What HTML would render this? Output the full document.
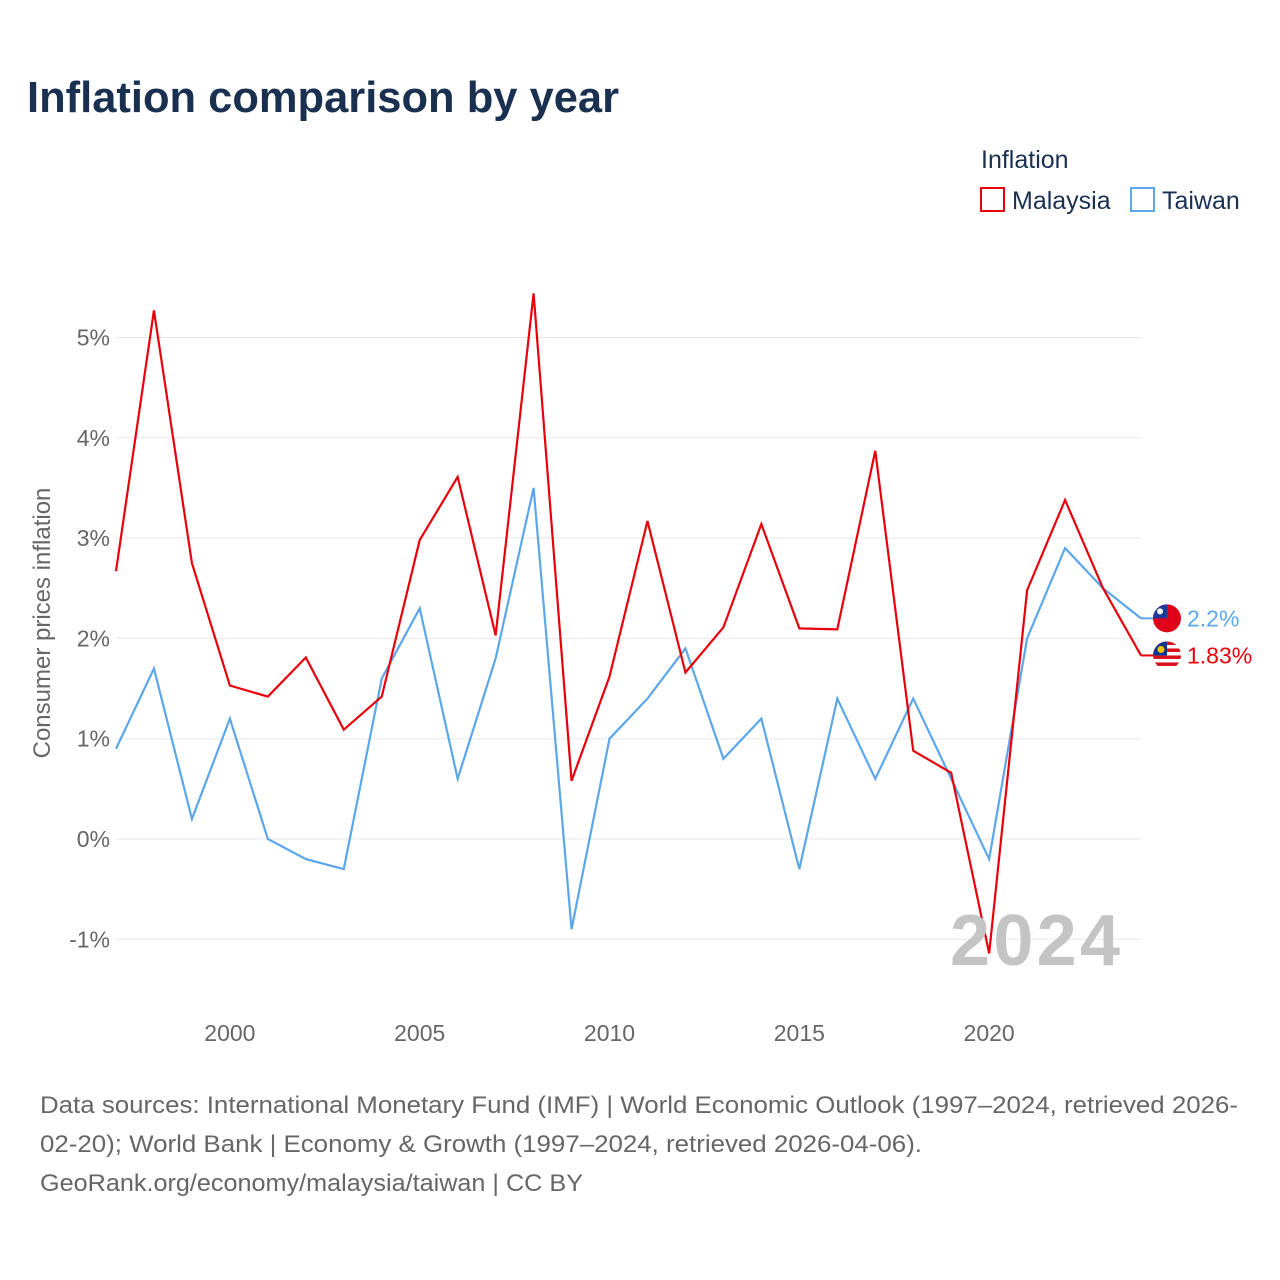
<!DOCTYPE html>
<html><head><meta charset="utf-8"><style>
body{margin:0;background:#fff;font-family:"Liberation Sans",sans-serif;}
#wrap{position:relative;width:1280px;height:1280px;overflow:hidden}
</style></head><body>
<div id="wrap">
<svg id="chart" width="1280" height="1280">
<defs><clipPath id="myclip"><circle cx="0" cy="0" r="14"/></clipPath></defs>
<text x="27" y="112" font-size="44" font-weight="bold" fill="#1a3050" textLength="592" lengthAdjust="spacingAndGlyphs">Inflation comparison by year</text>
<text x="981" y="168" font-size="25" fill="#1a3050">Inflation</text>
<g><rect x="981" y="188" width="23" height="23" fill="none" stroke="#e8000b" stroke-width="2"/><text x="1012" y="209" font-size="25" fill="#1a3050">Malaysia</text></g>
<g><rect x="1131" y="188" width="23" height="23" fill="none" stroke="#5ca6ea" stroke-width="2"/><text x="1162" y="209" font-size="25" fill="#1a3050">Taiwan</text></g>
<g id="grid"></g><g id="axes"></g><g id="series"></g>
<text x="1120" y="965" text-anchor="end" font-size="72" font-weight="bold" fill="#c4c4c4" textLength="170">2024</text>
<text transform="translate(50,623) rotate(-90)" text-anchor="middle" font-size="24" fill="#666">Consumer prices inflation</text>
<g font-size="24" fill="#666">
<text x="40" y="1113" textLength="1198" lengthAdjust="spacingAndGlyphs">Data sources: International Monetary Fund (IMF) | World Economic Outlook (1997–2024, retrieved 2026-</text>
<text x="40" y="1152" textLength="882" lengthAdjust="spacingAndGlyphs">02-20); World Bank | Economy &amp; Growth (1997–2024, retrieved 2026-04-06).</text>
<text x="40" y="1191" textLength="543" lengthAdjust="spacingAndGlyphs">GeoRank.org/economy/malaysia/taiwan | CC BY</text></g>
</svg></div>
<script>
const years=[1997,1998,1999,2000,2001,2002,2003,2004,2005,2006,2007,2008,2009,2010,2011,2012,2013,2014,2015,2016,2017,2018,2019,2020,2021,2022,2023,2024];
const malaysia=[2.67,5.27,2.75,1.53,1.42,1.81,1.09,1.42,2.98,3.61,2.03,5.44,0.58,1.62,3.17,1.66,2.11,3.14,2.10,2.09,3.87,0.88,0.66,-1.14,2.48,3.38,2.5,1.83];
const taiwan=[0.9,1.7,0.2,1.2,0.0,-0.2,-0.3,1.6,2.3,0.6,1.8,3.5,-0.9,1.0,1.4,1.9,0.8,1.2,-0.3,1.4,0.6,1.4,0.6,-0.2,2.0,2.9,2.5,2.2];
const yTicks=[-1,0,1,2,3,4,5];
const xTicks=[2000,2005,2010,2015,2020];
const NS='http://www.w3.org/2000/svg';
const xs=y=>116+(y-1997)*(1141-116)/27;
const ys=v=>839-v*100.3;
function mk(t,a,p){const e=document.createElementNS(NS,t);for(const k in a)e.setAttribute(k,a[k]);p.appendChild(e);return e;}
const grid=document.getElementById('grid'),axes=document.getElementById('axes'),ser=document.getElementById('series');
yTicks.forEach(v=>{
 const l=mk('line',{x1:116,x2:1141,y1:ys(v),y2:ys(v),stroke:'#e8e8e8','stroke-width':1},grid);
 
 
 const t=mk('text',{x:110,y:ys(v)+8,'text-anchor':'end','font-size':23,fill:'#666'},axes);
 t.textContent=v+'%';
 
 
});
xTicks.forEach(y=>{
 const t=mk('text',{x:xs(y),y:1041,'text-anchor':'middle','font-size':23,fill:'#666'},axes);
 t.textContent=y;
 
 
});
function line(vals,col,name){
 const p=mk('polyline',{points:vals.map((v,i)=>xs(years[i])+','+ys(v)).join(' '),fill:'none',stroke:col,'stroke-width':2.2,'stroke-linejoin':'miter'},ser);
 
 
}
line(taiwan,'#5ca6ea','taiwan-line');
line(malaysia,'#e8000b','malaysia-line');
function endLabel(vals,col,name,txt,flag){
 const v=vals[vals.length-1],x=xs(years[years.length-1]),y=ys(v);
 mk('line',{x1:x,x2:x+12,y1:y,y2:y,stroke:col,'stroke-width':2},ser);
 const g=mk('g',{},ser);
 
 
 if(flag==='tw'){
  mk('circle',{cx:x+26,cy:y,r:14,fill:'#e0001a'},g);
  mk('path',{d:`M${x+12},${y} A14,14 0 0 1 ${x+26},${y-14} L${x+26},${y} Z`,fill:'#1c3b9c'},g);
  mk('circle',{cx:x+19,cy:y-7,r:3,fill:'#fff'},g);
 }else{
  const f=mk('g',{transform:`translate(${x+26},${y})`,'clip-path':'url(#myclip)'},g);
  mk('rect',{x:-14,y:-14,width:28,height:28,fill:'#fff'},f);
  for(let i=0;i<4;i++)mk('rect',{x:-14,y:-14+i*7,width:28,height:3.5,fill:'#d8101c'},f);
  mk('rect',{x:-14,y:-14,width:14,height:14,fill:'#11358c'},f);
  mk('circle',{cx:-6,cy:-6,r:3.5,fill:'#f7c600'},f);
 }
 const t=mk('text',{x:x+46,y:y+8,'font-size':23,fill:col},g);
 t.textContent=txt;
}
endLabel(taiwan,'#5ca6ea','taiwan-end-label','2.2%','tw');
endLabel(malaysia,'#e8000b','malaysia-end-label','1.83%','my');
</script>
</body></html>
